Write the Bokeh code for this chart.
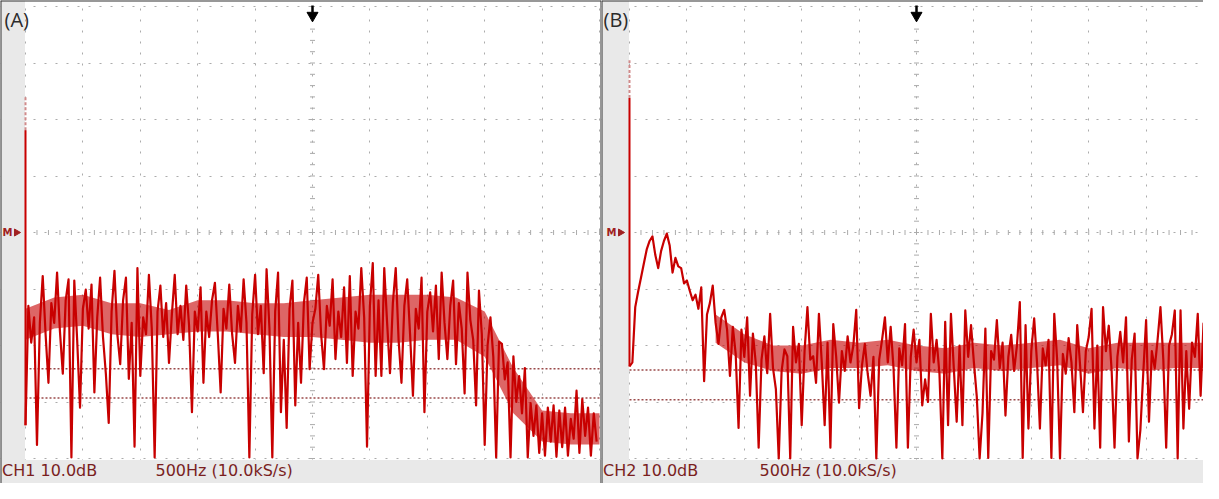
import numpy as np
from bokeh.plotting import figure
from bokeh.layouts import row
from bokeh.models import Range1d, BoxAnnotation, Span, FixedTicker, Grid
from bokeh.core.properties import value
from bokeh.embed import file_html
from bokeh.resources import INLINE

# ---------------- data ----------------
BIN_HZ = 25.0                      # spacing of the FFT points (Hz)
x_ticks = [0, 500, 1000, 1500, 2000, 2500, 3000, 3500, 4000, 4500, 5000]
y_ticks = [0, 10, 20, 30, 40, 50, 60, 70, 80]   # dB, 10 dB/div

spec_a = [
    5.9, 27.0, 20.5, 25.0, 2.4, 24.0, 32.3, 22.0, 13.4, 27.5,
    24.0, 32.9, 22.5, 15.0, 28.0, 31.7, 0.2, 31.5, 21.0, 9.0,
    26.5, 29.9, 23.0, 30.8, 11.7, 25.0, 32.0, 21.5, 15.0, 6.3,
    26.0, 33.2, 22.0, 16.7, 28.0, 32.0, 14.1, 24.0, 2.1, 33.7,
    14.6, 25.0, 22.0, 32.5, 23.0, 0.2, 26.0, 30.6, 21.5, 27.5,
    16.9, 25.5, 32.5, 22.0, 27.0, 21.0, 30.6, 23.5, 8.2, 26.0,
    22.5, 30.3, 13.4, 26.0, 21.5, 28.0, 31.1, 22.0, 11.7, 26.5,
    23.0, 30.8, 22.0, 16.9, 27.0, 22.5, 31.7, 24.0, 0.2, 25.5,
    32.5, 22.0, 27.0, 15.1, 33.5, 23.0, 0.2, 26.0, 32.9, 8.2,
    21.0, 5.4, 26.5, 31.5, 9.4, 24.0, 13.4, 27.5, 32.0, 15.8,
    24.0, 26.5, 32.5, 22.0, 15.8, 27.0, 23.5, 31.7, 17.6, 26.0,
    21.5, 30.3, 16.9, 32.3, 14.6, 26.0, 23.0, 33.7, 25.0, 2.1,
    27.0, 34.6, 14.6, 28.0, 14.6, 33.7, 24.0, 15.1, 27.5, 33.7,
    21.0, 13.4, 27.0, 31.7, 22.0, 11.1, 26.5, 23.0, 32.0, 8.2,
    26.0, 29.4, 22.5, 30.6, 17.6, 32.9, 24.0, 17.6, 27.0, 31.5,
    16.7, 27.5, 23.0, 11.5, 32.9, 24.5, 21.0, 9.4, 29.7, 22.0,
    2.4, 20.0, 25.0, 18.0, 0.2, 20.7, 20.3, 14.0, 17.0, 0.2,
    18.1, 10.0, 14.6, 8.0, 16.0, 0.2, 9.8, 4.0, 9.4, 1.0,
    8.0, 0.5, 9.0, 3.0, 9.4, 0.3, 8.5, 2.0, 9.0, 0.5,
    7.0, 3.5, 12.0, 1.0, 10.5, 4.0, 9.0, 0.5, 8.0, 3.0,
]

spec_b = [
    16.3, 17.0, 26.8, 29.5, 32.0, 34.5, 37.0, 38.5, 39.3, 36.0,
    33.7, 36.7, 38.5, 39.8, 37.7, 32.9, 35.5, 34.0, 33.7, 31.0,
    31.5, 29.7, 28.0, 29.0, 26.5, 30.3, 13.7, 25.5, 27.5, 30.6,
    24.0, 20.3, 25.0, 26.3, 22.8, 14.6, 23.3, 18.5, 5.4, 22.8,
    18.0, 25.0, 11.1, 22.1, 16.9, 1.9, 17.5, 21.6, 15.1, 25.6,
    16.0, 12.3, 0.0, 15.5, 19.3, 18.1, 0.0, 23.3, 17.0, 20.3,
    5.9, 19.0, 26.8, 17.5, 18.1, 13.4, 25.6, 17.0, 5.9, 20.5,
    1.9, 23.8, 18.1, 9.9, 19.0, 15.5, 21.6, 17.0, 20.0, 26.3,
    8.9, 16.5, 20.3, 15.0, 11.1, 18.0, 0.0, 17.5, 21.0, 25.0,
    17.0, 23.3, 16.0, 1.9, 19.5, 16.5, 23.8, 1.9, 18.0, 22.8,
    17.0, 21.0, 9.4, 14.0, 10.0, 25.6, 17.0, 21.0, 15.0, 0.0,
    24.2, 5.9, 25.6, 16.0, 6.5, 20.0, 5.9, 26.2, 18.0, 23.6,
    17.0, 11.0, 0.0, 8.0, 23.0, 0.1, 19.0, 17.5, 24.5, 16.0,
    20.5, 7.6, 18.0, 21.9, 15.5, 20.0, 27.7, 0.1, 23.6, 5.3,
    19.0, 24.8, 17.0, 5.3, 19.5, 16.5, 21.0, 0.1, 25.6, 17.5,
    0.0, 18.5, 15.0, 21.3, 17.0, 8.2, 23.6, 16.5, 8.2, 19.0,
    21.5, 26.5, 5.3, 20.0, 1.9, 26.8, 19.0, 23.5, 15.5, 1.9,
    18.0, 22.4, 17.0, 25.0, 3.0, 17.5, 22.1, 0.0, 5.0, 15.0,
    24.5, 6.5, 19.0, 16.0, 21.0, 26.8, 17.5, 1.9, 20.0, 22.0,
    26.2, 0.0, 26.2, 5.3, 19.0, 8.8, 20.5, 18.0, 25.6, 11.1,
    23.9, 19.0, 18.6,
]

# dense part of each trace (where the display is filled), every 250 Hz
band_hz_a = [0, 250, 500, 750, 1000, 1250, 1500, 1750, 2000, 2250, 2500,
             2750, 3000, 3250, 3500, 3750, 4000, 4250, 4500, 4750, 5000]
band_lo_a = [21.0, 23.0, 23.5, 22.0, 21.5, 22.0, 22.5, 22.5, 22.0, 21.5, 21.5,
             21.0, 20.5, 20.5, 21.0, 21.0, 18.0, 8.0, 3.0, 2.5, 2.5]
band_hi_a = [26.5, 28.5, 29.0, 27.5, 27.5, 26.3, 28.0, 28.0, 27.5, 27.5, 28.0,
             28.5, 29.0, 29.0, 29.0, 28.5, 26.0, 16.0, 8.5, 8.0, 8.0]

band_hz_b = [750, 1000, 1250, 1500, 1750, 2000, 2250, 2500,
             2750, 3000, 3250, 3500, 3750, 4000, 4250, 4500, 4750, 5000]
band_lo_b = [20.5, 17.0, 15.5, 15.0, 16.0, 16.0, 16.5, 15.5,
             15.0, 16.0, 15.5, 16.0, 16.5, 15.0, 16.0, 15.5, 16.0, 16.0]
band_hi_b = [25.5, 22.0, 20.0, 20.0, 21.0, 20.5, 21.0, 20.0,
             19.5, 20.5, 20.0, 20.5, 21.0, 19.5, 20.5, 20.5, 20.5, 20.5]

# DC spike: [floor, top of solid part, top of faint dashed part]
dc_a = [5.9, 58.1, 64.2]
dc_b = [16.3, 63.8, 70.5]

ref_levels_a = [15.9, 10.7]
ref_levels_b = [15.65, 10.4]

panel_tags = ["(A)", "(B)"]
ch_labels = ["CH1 10.0dB", "CH2 10.0dB"]
rate_label = "500Hz (10.0kS/s)"

# ---------------- layout constants ----------------
HZ_PER_PX = 500.0 / 57.4
DB_PER_PX = 10.0 / 56.5
HEIGHT = 483
TOP_PX = 6             # graticule top (frame px)
ZERO_PX = TOP_PX + 452  # 0 dB row (frame px)
Y_END = ZERO_PX * DB_PER_PX
Y_START = -(HEIGHT - ZERO_PX) * DB_PER_PX

TRACE = "#c80000"
BAND = "#c80808"
GRID = "#ababab"
GREY = "#e9e9e9"
MAROON = "#7a1f1f"


def make_panel(spec, band_hz, band_lo, band_hi, dc, refs, tag, ch_label,
               width, grey_px, tag_px):
    x_start = -grey_px * HZ_PER_PX
    x_end = x_start + width * HZ_PER_PX
    p = figure(width=width, height=HEIGHT,
               x_range=Range1d(x_start, x_end), y_range=Range1d(Y_START, Y_END),
               output_backend="svg", toolbar_location=None,
               x_axis_location=None, y_axis_location=None,
               min_border=0, min_border_left=0, min_border_right=0,
               min_border_top=0, min_border_bottom=0)
    p.grid.visible = False
    p.outline_line_color = None
    p.background_fill_color = "white"
    p.border_fill_color = "white"

    # graticule (dotted)
    p.add_layout(Grid(dimension=0, ticker=FixedTicker(ticks=x_ticks),
                      grid_line_color=GRID, grid_line_dash="2 9", grid_line_width=1))
    p.add_layout(Grid(dimension=1, ticker=FixedTicker(ticks=y_ticks),
                      grid_line_color=GRID, grid_line_dash="2 9", grid_line_width=1))
    # centre-cross minor ticks
    p.scatter(x=[2500.0] * 41, y=list(np.arange(0, 80.1, 2.0)), marker="dash",
              size=5, line_color=GRID, line_width=1)
    p.scatter(x=list(np.arange(0, 5001, 100.0)), y=[40.0] * 51, marker="dash",
              angle=np.pi / 2, size=5, line_color=GRID, line_width=1)

    # grey strips (left and bottom)
    p.add_layout(BoxAnnotation(left=x_start, right=-0.5 * HZ_PER_PX, fill_color=GREY,
                               fill_alpha=1.0, line_color=None, level="underlay"))
    p.add_layout(BoxAnnotation(bottom=Y_START, top=-1.5 * DB_PER_PX, fill_color=GREY,
                               fill_alpha=1.0, line_color=None, level="underlay"))

    # reference levels
    p.segment(x0=[0.0] * len(refs), x1=[x_end] * len(refs), y0=refs, y1=refs,
              line_color="#9a4a4a", line_width=1.5, line_dash="2 2")

    # DC spike
    p.segment(x0=[0.0], x1=[0.0], y0=[dc[1]], y1=[dc[2]], line_color="#d08a8a",
              line_width=2, line_dash="3 2")
    p.segment(x0=[0.0], x1=[0.0], y0=[dc[0]], y1=[dc[1]], line_color=TRACE, line_width=2)

    # dense part of the trace (tint under the trace)
    p.varea(x=band_hz, y1=band_lo, y2=band_hi, fill_color=BAND, fill_alpha=0.62)

    # spectrum trace
    freqs = np.arange(len(spec)) * BIN_HZ
    p.line(x=freqs, y=spec, line_color=TRACE, line_width=2.2, line_join="round")

    # trigger arrow at centre
    p.segment(x0=[2500.0], x1=[2500.0], y0=[(ZERO_PX - 5) * DB_PER_PX],
              y1=[(ZERO_PX - 12) * DB_PER_PX], line_color="black", line_width=2.5)
    p.scatter(x=[2500.0], y=[(ZERO_PX - 15) * DB_PER_PX], marker="inverted_triangle",
              size=11, fill_color="black", line_color="black")

    # "M>" marker
    p.text(x=[-18 * HZ_PER_PX], y=[40.0], text=["M"], text_font=value("DejaVu Sans"),
           text_font_size="10px", text_color="#a02020", text_align="center",
           text_baseline="middle", text_font_style="bold")
    p.scatter(x=[-9 * HZ_PER_PX], y=[40.0], marker="triangle", angle=-np.pi / 2,
              size=7, fill_color="#a02020", line_color="#a02020")

    # panel tag
    p.text(x=[tag_px * HZ_PER_PX], y=[(ZERO_PX - 18.5) * DB_PER_PX], text=[tag],
           text_font=value("Open Sans"), text_font_size="20px", text_color="#2b2b2b",
           text_align="left", text_baseline="middle")

    # bottom status text
    p.text(x=[(-grey_px + 1.5) * HZ_PER_PX, 130 * HZ_PER_PX], y=[-2.2, -2.2],
           text=[ch_label, rate_label], text_font=value("DejaVu Sans"),
           text_font_size="16px", text_color=MAROON, text_align="left",
           text_baseline="middle")

    # dark frame lines
    p.add_layout(Span(location=Y_END, dimension="width", line_color="#333333", line_width=2))
    p.add_layout(Span(location=x_start, dimension="height", line_color="#333333",
                      line_width=2))
    return p


pa = make_panel(spec_a, band_hz_a, band_lo_a, band_hi_a, dc_a, ref_levels_a,
                panel_tags[0], ch_labels[0], width=601, grey_px=25, tag_px=-21)
pa.add_layout(Span(location=(601 - 25) * HZ_PER_PX, dimension="height",
                   line_color="#333333", line_width=2))
pb = make_panel(spec_b, band_hz_b, band_lo_b, band_hi_b, dc_b, ref_levels_b,
                panel_tags[1], ch_labels[1], width=602, grey_px=28, tag_px=-26)

layout = row(pa, pb, spacing=0)
open("out.html", "w").write(file_html(layout, INLINE))
